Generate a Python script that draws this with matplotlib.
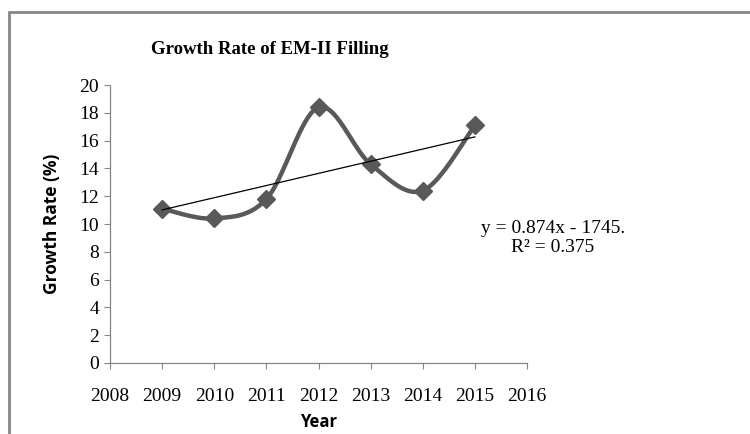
import numpy as np
import matplotlib
matplotlib.use("Agg")
from matplotlib import pyplot as plt
from matplotlib.patches import Rectangle

years = [2009, 2010, 2011, 2012, 2013, 2014, 2015]
growth = [11.1, 10.4, 11.8, 18.4, 14.3, 12.4, 17.1]
x_ticks = [2008, 2009, 2010, 2011, 2012, 2013, 2014, 2015, 2016]
y_ticks = [0, 2, 4, 6, 8, 10, 12, 14, 16, 18, 20]
trend_text = "y = 0.874x - 1745.\nR\u00b2 = 0.375"

serif = "Liberation Serif"
sans = "Open Sans"
grey = "#868686"


def smooth_curve(xs, ys, steps=40):
    # catmull-rom style bezier, like excel's "smoothed line"
    pts = np.column_stack([xs, ys]).astype(float)
    n = len(pts)
    out = []
    for i in range(n - 1):
        p0 = pts[max(i - 1, 0)]
        p1 = pts[i]
        p2 = pts[i + 1]
        p3 = pts[min(i + 2, n - 1)]
        c1 = p1 + (p2 - p0) / 6
        c2 = p2 - (p3 - p1) / 6
        t = np.linspace(0, 1, steps)[:, None]
        seg = ((1 - t) ** 3) * p1 + 3 * ((1 - t) ** 2) * t * c1 + 3 * (1 - t) * t ** 2 * c2 + t ** 3 * p2
        out.append(seg if i == 0 else seg[1:])
    out = np.vstack(out)
    return out[:, 0], out[:, 1]


fig = plt.figure(figsize=(7.5, 4.34), dpi=100)
ax = fig.add_axes([0.1467, 0.1636, 0.556, 0.6405])

sx, sy = smooth_curve(years, growth)
ax.plot(sx, sy, color="#595959", lw=3.2, solid_capstyle="round", zorder=3)
ax.plot(years, growth, ls="none", marker="D", ms=9, color="#595959", zorder=4)

coef = np.polyfit(years, growth, 1)
tx = np.array([years[0], years[-1]])
ax.plot(tx, np.polyval(coef, tx), color="black", lw=0.9, zorder=5)

ax.text(2016.5, 9.0, trend_text, fontsize=14, family=serif, ha="center", va="center",
        multialignment="center", linespacing=1.1, clip_on=False)

ax.set_xlim(2008, 2016)
ax.set_ylim(0, 20)
ax.set_xticks(x_ticks)
ax.set_yticks(y_ticks)
ax.tick_params(axis="both", direction="out", length=4, width=0.8, color=grey, labelsize=14)
ax.tick_params(axis="x", pad=14)
ax.tick_params(axis="y", pad=4)
for lab in ax.get_xticklabels() + ax.get_yticklabels():
    lab.set_family(serif)
for side in ["top", "right"]:
    ax.spines[side].set_visible(False)
for side in ["left", "bottom"]:
    ax.spines[side].set_color(grey)
    ax.spines[side].set_linewidth(0.9)

ax.set_xlabel("Year", fontsize=12, family=sans, fontweight="bold", labelpad=6)
ax.set_ylabel("Growth Rate (%)", fontsize=12.5, family=sans, fontweight="bold", labelpad=13)

fig.text(0.36, 0.887, "Growth Rate of EM-II Filling", fontsize=13.5, family=serif,
         fontweight="bold", ha="center", va="center")

fig.patches.append(Rectangle((0.012, -0.2), 1.2, 1.1724, transform=fig.transFigure,
                             fill=False, edgecolor=grey, lw=2))

fig.savefig("out.png", dpi=100)
